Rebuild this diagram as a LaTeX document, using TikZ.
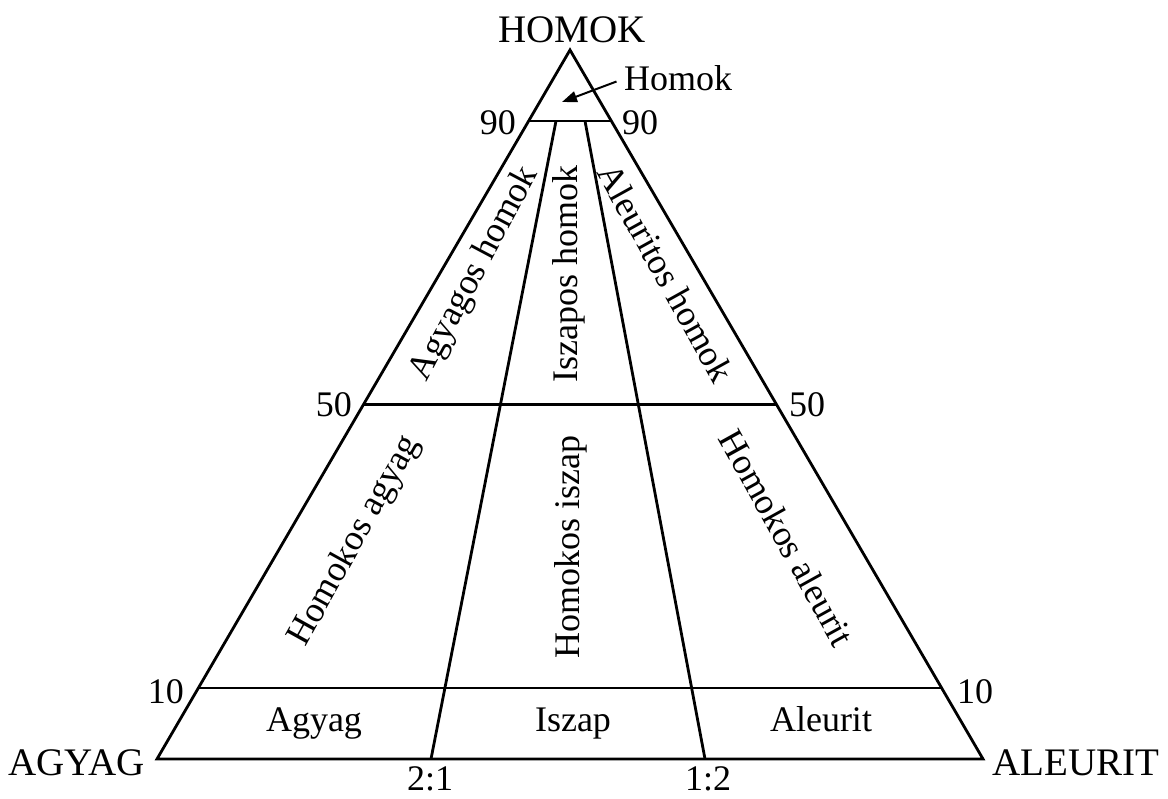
\documentclass[tikz,border=0pt]{standalone}
\usepackage{fontspec}
\setmainfont{Liberation Serif}
\usetikzlibrary{calc,arrows.meta}
\begin{document}
\begin{tikzpicture}[x=1pt,y=-1pt,
  edge/.style={line width=2.8pt, line join=miter},
  txt/.style={font=\fontsize{36}{40}\selectfont, inner sep=0pt},
  corner/.style={font=\fontsize{39}{44}\selectfont, inner sep=0pt},
  pointer/.style={line width=2pt, -{Triangle[length=15pt,width=11pt]}}]
\useasboundingbox (0,0) rectangle (1168,799);

% corners of the triangle
\coordinate (T) at (570,50);
\coordinate (L) at (157,759);
\coordinate (R) at (983,759);

% ends of the horizontal division lines
\coordinate (l90) at ($(T)!0.1!(L)$);
\coordinate (r90) at ($(T)!0.1!(R)$);
\coordinate (l50) at ($(T)!0.5!(L)$);
\coordinate (r50) at ($(T)!0.5!(R)$);
\coordinate (l10) at ($(T)!0.9!(L)$);
\coordinate (r10) at ($(T)!0.9!(R)$);

% ends of the ratio lines
\coordinate (a1) at (556,121);
\coordinate (b1) at (431,759);
\coordinate (a2) at (585,121);
\coordinate (b2) at (705,759);

% outline and division lines
\draw[edge] (T) -- (L) -- (R) -- cycle;
\draw[edge] (l90) -- (r90);
\draw[edge] (l50) -- (r50);
\draw[edge] (l10) -- (r10);
\draw[edge] (a1) -- (b1);
\draw[edge] (a2) -- (b2);

% corner names
\node[corner, anchor=base] (nT) at (572,43) {HOMOK};
\node[corner, anchor=base east] (nL) at (145,775) {AGYAG};
\node[corner, anchor=base west] (nR) at (992,775) {ALEURIT};

% percentage ticks
\node[txt, anchor=base east] (p90l) at (516,135) {90};
\node[txt, anchor=base west] (p90r) at (622,135) {90};
\node[txt, anchor=base east] (p50l) at (352,417) {50};
\node[txt, anchor=base west] (p50r) at (789,417) {50};
\node[txt, anchor=base east] (p10l) at (184,703) {10};
\node[txt, anchor=base west] (p10r) at (957,703) {10};

% ratio ticks
\node[txt, anchor=base] (q21) at (430,790) {2:1};
\node[txt, anchor=base] (q12) at (708,790) {1:2};

% top field with its pointer
\node[txt, anchor=base west] (hlab) at (624,91) {Homok};
\coordinate (htip) at (562,102);
\draw[pointer, shorten <=8pt] (hlab.west) -- (htip);

% upper fields
\node[txt, rotate=62] (f1) at (475,274) {Agyagos homok};
\node[txt, rotate=90] (f2) at (569,274) {Iszapos homok};
\node[txt, rotate=-61] (f3) at (666,273) {Aleuritos homok};

% middle fields
\node[txt, rotate=61] (f4) at (355,541) {Homokos agyag};
\node[txt, rotate=90] (f5) at (571,547) {Homokos iszap};
\node[txt, rotate=-61] (f6) at (787,538) {Homokos aleurit};

% bottom fields
\node[txt, anchor=base] (f7) at (314,731) {Agyag};
\node[txt, anchor=base] (f8) at (573,731) {Iszap};
\node[txt, anchor=base] (f9) at (821,731) {Aleurit};
\end{tikzpicture}
\end{document}
